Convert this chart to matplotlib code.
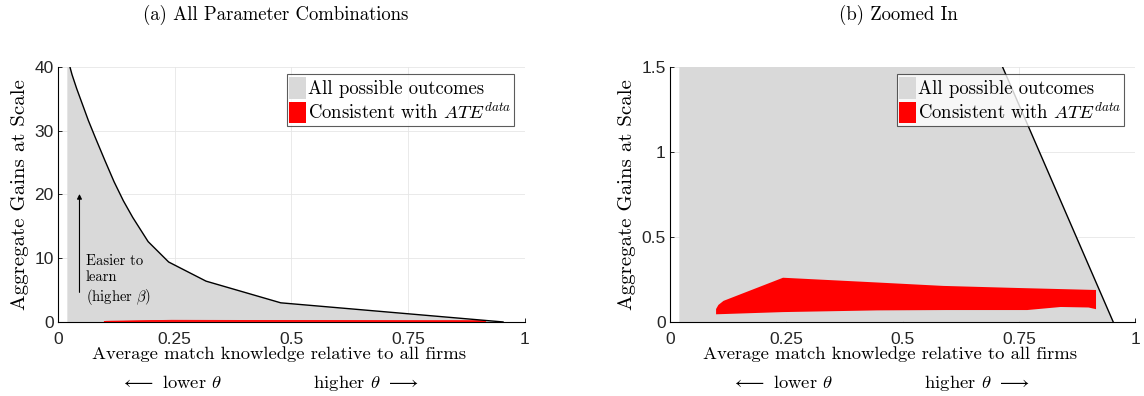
import matplotlib
matplotlib.use('Agg')
import matplotlib.pyplot as plt
from matplotlib.patches import Patch

plt.rcParams['mathtext.fontset'] = 'cm'
plt.rcParams['font.family'] = 'Liberation Sans'

# upper frontier of all possible outcomes
frontier_x = [0.02, 0.03, 0.04, 0.05, 0.065, 0.08, 0.10, 0.12, 0.14, 0.16, 0.193, 0.237,
              0.317, 0.477, 0.953]
frontier_y = [41.5, 38.8, 36.6, 34.6, 31.6, 28.9, 25.4, 22.0, 19.0, 16.4, 12.6, 9.4,
              6.4, 3.0, 0.0]

# region consistent with the measured ATE (top and bottom edges)
ate_top_x = [0.099, 0.104, 0.115, 0.243, 0.446, 0.587, 0.744, 0.916]
ate_top_y = [0.076, 0.100, 0.124, 0.260, 0.232, 0.212, 0.200, 0.188]
ate_bot_x = [0.916, 0.90, 0.84, 0.768, 0.595, 0.446, 0.243, 0.099]
ate_bot_y = [0.075, 0.085, 0.088, 0.070, 0.070, 0.068, 0.058, 0.045]

panel_titles = ['(a) All Parameter Combinations', '(b) Zoomed In']
title_x = [0.467, 0.49]
y_limits = [40, 1.5]
y_ticks = [[0, 10, 20, 30, 40], [0, 0.5, 1, 1.5]]
y_ticklabels = [['0', '10', '20', '30', '40'], ['0', '0.5', '1', '1.5']]
x_ticks = [0, 0.25, 0.5, 0.75, 1]
x_ticklabels = ['0', '0.25', '0.5', '0.75', '1']

GRAY = '#d9d9d9'
RED = '#ff0000'
TXT = '#262626'
SERIF = 'cmr10'

fig = plt.figure(figsize=(11.44, 3.96), dpi=100)
axes = [fig.add_axes([0.0507, 0.187, 0.4082, 0.644]),
        fig.add_axes([0.5857, 0.187, 0.4065, 0.644])]

for i, ax in enumerate(axes):
    fx = [frontier_x[0]] + frontier_x + [frontier_x[-1]]
    fy = [0] + frontier_y + [0]
    ax.fill(fx, fy, color=GRAY, lw=0, zorder=2)
    ax.plot(frontier_x, frontier_y, color='black', lw=1.0, zorder=4)
    ax.fill(ate_top_x + ate_bot_x, ate_top_y + ate_bot_y, color=RED, lw=0.6 if i == 0 else 0,
            ec=RED, zorder=3)

    ax.set_xlim(0, 1)
    ax.set_ylim(0, y_limits[i])
    ax.set_xticks(x_ticks)
    ax.set_xticklabels(x_ticklabels)
    ax.set_yticks(y_ticks[i])
    ax.set_yticklabels(y_ticklabels[i])
    ax.tick_params(direction='in', length=3, width=0.6, labelsize=12.5,
                   colors='black', labelcolor=TXT)
    ax.tick_params(axis='x', pad=7)
    ax.tick_params(axis='y', pad=3)
    ax.grid(True, color='#e6e6e6', lw=0.6, zorder=0)
    ax.set_axisbelow(True)
    ax.spines['top'].set_visible(False)
    ax.spines['right'].set_visible(False)
    ax.spines['left'].set_linewidth(0.8)
    ax.spines['bottom'].set_linewidth(0.8)

    ax.set_ylabel('Aggregate Gains at Scale', fontfamily=SERIF, fontsize=15, labelpad=4)
    ax.set_xlabel('Average match knowledge relative to all firms',
                  fontfamily=SERIF, fontsize=13.4, labelpad=0)
    ax.xaxis.label.set_x(0.473)
    # direction hint under the x label
    ax.text(0.452, -0.24, r'$\longleftarrow$ lower $\theta$' + ' ' * 15
            + r'higher $\theta$ $\longrightarrow$', transform=ax.transAxes,
            fontfamily=SERIF, fontsize=13.4, ha='center', va='center')
    ax.set_title(panel_titles[i], fontfamily=SERIF, fontsize=13.5, pad=34, x=title_x[i])

    handles = [Patch(facecolor=GRAY, edgecolor='none'), Patch(facecolor=RED, edgecolor='none')]
    leg = ax.legend(handles, ['All possible outcomes', r'Consistent with $ATE^{data}$'],
                    loc='upper right', bbox_to_anchor=(0.985, 0.985),
                    prop={'family': SERIF, 'size': 13.5}, frameon=True, fancybox=False,
                    handlelength=0.9, handleheight=1.4, handletextpad=0.1,
                    borderpad=0.15, labelspacing=0.15, borderaxespad=0.2)
    leg.get_frame().set_edgecolor('#333333')
    leg.get_frame().set_linewidth(0.8)
    leg.set_zorder(10)

# annotation about learning difficulty
axes[0].annotate('', xy=(0.046, 20.5), xytext=(0.046, 4.2),
                 arrowprops=dict(arrowstyle='-|>', color='black', lw=0.8,
                                 mutation_scale=7), zorder=5)
axes[0].text(0.059, 10.6, 'Easier to\nlearn\n(higher $\\beta$)', fontfamily=SERIF,
             fontsize=10.5, va='top', ha='left', linespacing=1.2, zorder=5)

fig.savefig('out.png', dpi=100)
